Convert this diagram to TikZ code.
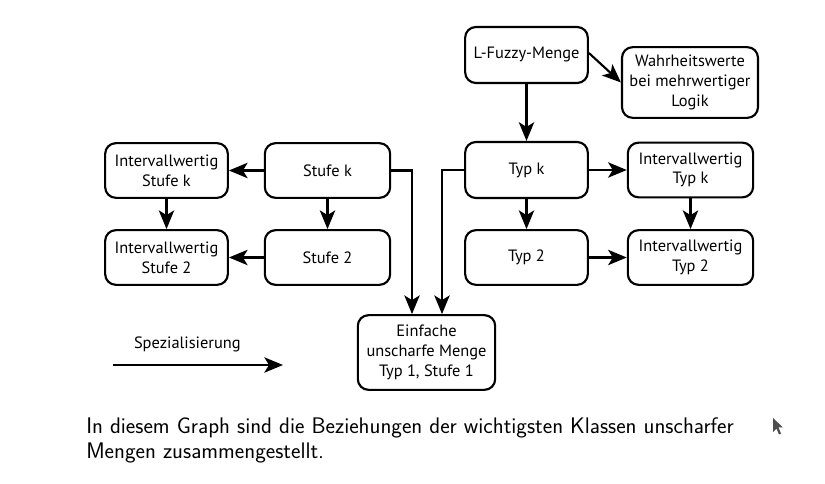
\documentclass[tikz,border=0pt]{standalone}
\usepackage{fontspec}
\newfontfamily\boxfont{PT Sans}
\usetikzlibrary{arrows.meta,calc}
\begin{document}
\begin{tikzpicture}[x=0.75pt,y=-0.75pt,
  box/.style={draw,line width=1.6pt,rounded corners=8pt,align=center,
    inner sep=0pt,font=\boxfont\fontsize{12.3}{14.8}\selectfont},
  arr/.style={line width=1.6pt,-{Stealth[length=14pt,width=11.5pt,inset=3.5pt]}}]
\useasboundingbox (0,0) rectangle (825,484);
\node[box,minimum width=92pt,minimum height=41pt] (isk) at (166.5,170.5) {Intervallwertig\\Stufe k};
\node[box,minimum width=94pt,minimum height=41pt] (sk) at (327.5,170.5) {Stufe k};
\node[box,minimum width=92pt,minimum height=41pt] (is2) at (166.5,257.5) {Intervallwertig\\Stufe 2};
\node[box,minimum width=94pt,minimum height=41pt] (s2) at (327.5,257.5) {Stufe 2};
\node[box,minimum width=92pt,minimum height=42pt] (lf) at (526.5,55) {L-Fuzzy-Menge};
\node[box,minimum width=102pt,minimum height=53pt] (ww) at (690,82.5) {Wahrheitswerte\\bei mehrwertiger\\Logik};
\node[box,minimum width=92pt,minimum height=42pt] (tk) at (526.5,170) {Typ k};
\node[box,minimum width=94pt,minimum height=41pt] (itk) at (690.5,170) {Intervallwertig\\Typ k};
\node[box,minimum width=92pt,minimum height=41pt] (t2) at (526.5,257.5) {Typ 2};
\node[box,minimum width=94pt,minimum height=41pt] (it2) at (690.5,257.5) {Intervallwertig\\Typ 2};
\node[box,minimum width=103pt,minimum height=56pt] (ein) at (426.5,352.5) {Einfache\\unscharfe Menge\\Typ 1, Stufe 1};
\coordinate (j1) at (412,0);
\coordinate (j2) at (442,0);
\draw[arr] (sk.west) -- (isk.east);
\draw[arr] (isk.south) -- (is2.north);
\draw[arr] (sk.south) -- (s2.north);
\draw[arr] (s2.west) -- (is2.east);
\draw[arr] (sk.east) -| (j1 |- ein.north);
\draw[arr] (lf.south) -- (tk.north);
\draw[arr] ($(lf.east)+(0,-2)$) -- (ww.west);
\draw[arr] (tk.east) -- (itk.west);
\draw[arr] (tk.south) -- (t2.north);
\draw[arr] (itk.south) -- (it2.north);
\draw[arr] (t2.east) -- (it2.west);
\draw[arr] (tk.west) -| (j2 |- ein.north);
\coordinate (la) at (113,365);
\coordinate (lb) at (283,365);
\draw[arr] (la) -- (lb) node[midway,above=6pt,font=\boxfont\fontsize{12.3}{14.8}\selectfont,xshift=-8pt] (lbl) {Spezialisierung};
\node[anchor=north west,align=left,inner sep=0pt,font=\sffamily\fontsize{16.9}{19}\selectfont] (cap) at (86,417) {In diesem Graph sind die Beziehungen der wichtigsten Klassen unscharfer\\Mengen zusammengestellt.};
\fill[gray!60!black] (773,418) -- (773,432) -- (776.5,428.5) -- (779,434.5) -- (781,433.5) -- (778.5,427.5) -- (783,427.5) -- cycle;
\end{tikzpicture}
\end{document}
